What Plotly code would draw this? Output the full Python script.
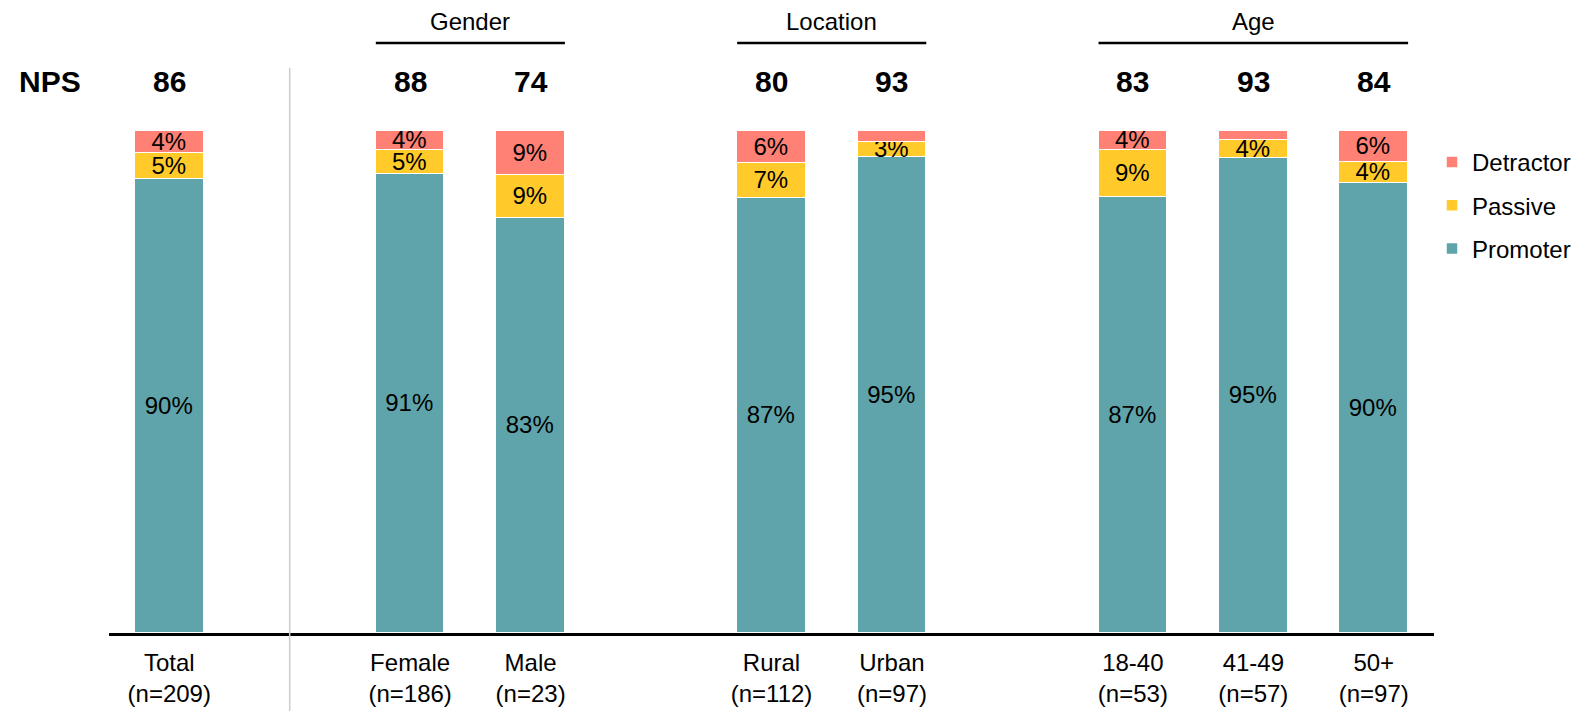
import plotly.graph_objects as go

# ---- data ----
categories = ["Total", "Female", "Male", "Rural", "Urban", "18-40", "41-49", "50+"]
sample_sizes = [209, 186, 23, 112, 97, 53, 57, 97]
group_names = ["", "Gender", "Location", "Age"]
group_members = [["Total"], ["Female", "Male"], ["Rural", "Urban"], ["18-40", "41-49", "50+"]]
promoter = [90.4, 91.4, 82.6, 86.6, 94.8, 86.8, 94.7, 89.7]
passive = [5.3, 4.8, 8.7, 7.1, 3.1, 9.4, 3.5, 4.1]
detractor = [4.3, 3.8, 8.7, 6.3, 2.1, 3.8, 1.8, 6.2]
nps = [86, 88, 74, 80, 93, 83, 93, 84]

# ---- layout helpers ----
FONT = "Liberation Sans, Arial, sans-serif"
C_PRO = "#5FA4AA"
C_PAS = "#FFCA2A"
C_DET = "#FF8075"
FS = 24       # regular text size
FS_BIG = 30   # NPS row

# positions: one empty slot between groups
xpos = {}
slot = 0
group_spans = []
for gi, members in enumerate(group_members):
    if gi > 0:
        slot += 1
    start = slot
    for m in members:
        xpos[m] = slot
        slot += 1
    group_spans.append((start, slot - 1))
x = [xpos[c] for c in categories]
ticktext = [f"{c}<br>(n={n})" for c, n in zip(categories, sample_sizes)]

BAR_W = 0.57


def labels(vals):
    return [f"{v:.0f}%" if v >= 2.5 else "" for v in vals]


fig = go.Figure()
for name, vals, color, rank in [
    ("Promoter", promoter, C_PRO, 3),
    ("Passive", passive, C_PAS, 2),
    ("Detractor", detractor, C_DET, 1),
]:
    fig.add_trace(go.Bar(
        name=name, x=x, y=vals, width=BAR_W,
        marker=dict(color=color, line=dict(color="white", width=1.5)),
        text=labels(vals), textposition="inside", insidetextanchor="middle",
        textangle=0, textfont=dict(family=FONT, size=FS, color="black"),
        legendrank=rank, legendgroup=name, hoverinfo="skip",
    ))

# page has an 8px body margin; geometry below in figure pixels
LEFT, WIDTH = 101, 1325
TOP, BOTTOM = 123, 625
H = BOTTOM - TOP


def py(pix):
    return (BOTTOM - pix) / H


annotations = []
shapes = []
# NPS row
annotations.append(dict(text="<b>NPS</b>", xref="paper", yref="paper",
                        x=(9 - LEFT) / WIDTH, y=py(73), xanchor="left", yanchor="middle",
                        showarrow=False, font=dict(family=FONT, size=FS_BIG, color="black")))
for xi, v in zip(x, nps):
    annotations.append(dict(text=f"<b>{v}</b>", xref="x", yref="paper", x=xi, y=py(73),
                            xanchor="center", yanchor="middle", showarrow=False,
                            font=dict(family=FONT, size=FS_BIG, color="black")))
# group headers
for gname, (s, e) in zip(group_names, group_spans):
    if not gname:
        continue
    annotations.append(dict(text=gname, xref="x", yref="paper", x=(s + e) / 2, y=py(14),
                            xanchor="center", yanchor="middle", showarrow=False,
                            font=dict(family=FONT, size=FS, color="black")))
    shapes.append(dict(type="line", xref="x", yref="paper",
                       x0=s - BAR_W / 2, x1=e + BAR_W / 2, y0=py(35), y1=py(35),
                       line=dict(color="black", width=2.5)))
# separator between Total and the groups
shapes.append(dict(type="line", xref="x", yref="paper", x0=1, x1=1,
                   y0=py(711), y1=py(60), line=dict(color="#cccccc", width=1.5)))

fig.update_layout(
    width=1591, height=711,
    margin=dict(l=LEFT, r=1591 - LEFT - WIDTH, t=TOP, b=711 - BOTTOM),
    barmode="stack", bargap=0,
    plot_bgcolor="white", paper_bgcolor="white",
    font=dict(family=FONT, size=FS, color="black"),
    uniformtext=dict(minsize=FS, mode="show"),
    xaxis=dict(range=[-0.5, 10.5], tickvals=x, ticktext=ticktext, showgrid=False,
               zeroline=False, showline=True, linecolor="black", linewidth=2.5,
               ticks="", ticklabelstandoff=6,
               tickfont=dict(family=FONT, size=FS, color="black"), fixedrange=True),
    yaxis=dict(range=[0, 100], visible=False, showgrid=False, zeroline=False, fixedrange=True),
    legend=dict(x=-2 / WIDTH + 1.0, xanchor="left", y=py(132), yanchor="top",
                font=dict(family=FONT, size=FS, color="black"), tracegroupgap=9,
                bgcolor="rgba(0,0,0,0)"),
    annotations=annotations, shapes=shapes,
)

fig.write_html("out.html")
